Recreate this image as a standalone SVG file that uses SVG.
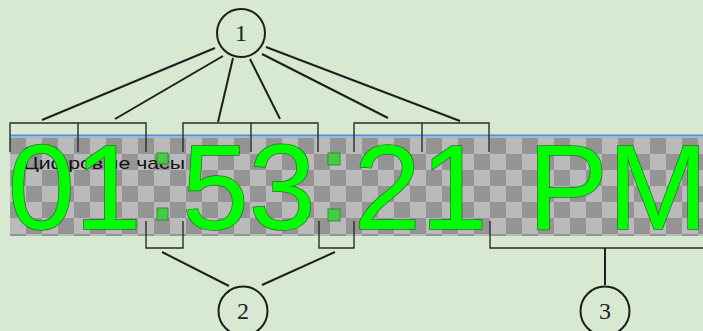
<svg xmlns="http://www.w3.org/2000/svg" width="703" height="331" viewBox="0 0 703 331">
<defs>
<pattern id="chk" x="10" y="138" width="32" height="32" patternUnits="userSpaceOnUse">
<rect width="32" height="32" fill="#bababa"/>
<rect width="16" height="16" fill="#949494"/>
<rect x="16" y="16" width="16" height="16" fill="#949494"/>
</pattern>
<style>
.bg{fill:#d8e9d2}
.br{fill:none;stroke:#2b2b2b;stroke-width:1.4}
.cn{stroke:#1e1e1e;stroke-width:2;fill:none}
.cir{fill:none;stroke:#1e1e1e;stroke-width:2}
.num{font-family:"Liberation Serif","DejaVu Serif",serif;font-size:24px;fill:#222;text-anchor:middle}
.dig{font-family:"Liberation Sans",Arial,sans-serif;font-size:120px;fill:#00ff00;stroke:#2a6f2a;stroke-width:1.5;paint-order:stroke}
.dot{fill:#44cc44;stroke:#2f8f2f;stroke-width:1}
.lbl{font-family:"Liberation Sans",Arial,sans-serif;font-size:17px;fill:#111}
</style>
</defs>
<rect class="bg" x="0" y="0" width="703" height="331"/>
<g id="display">
<rect x="10" y="138" width="693" height="98" fill="url(#chk)"/>
<rect x="10" y="134.5" width="693" height="2" fill="#5a8bd3"/>
<rect x="10" y="136.5" width="693" height="1.5" fill="#9db9e0"/>
<text class="lbl" x="23" y="169" textLength="162" lengthAdjust="spacingAndGlyphs">Цифровые часы</text>
<text class="dig" x="8" y="229">01</text>
<rect class="dot" x="157" y="153" width="11" height="11"/>
<rect class="dot" x="157" y="208" width="11" height="12"/>
<text class="dig" x="182" y="229">53</text>
<rect class="dot" x="328" y="153" width="12" height="12"/>
<rect class="dot" x="328" y="209" width="12" height="12"/>
<text class="dig" x="354" y="229">21</text>
<text class="dig" x="528" y="229">PM</text>
</g>
<g id="connectors">
<path class="br" d="M10,152V123H146V152M78,123V152"/>
<path class="br" d="M183,152V123H318V152M251,123V152"/>
<path class="br" d="M354,152V123H489V152M422,123V152"/>
<path class="br" d="M146,221V248H183V221"/>
<path class="br" d="M319,221V248H354V221"/>
<path class="br" d="M490,221V248H703"/>
<line class="cn" x1="215" y1="48" x2="42" y2="120"/>
<line class="cn" x1="223" y1="56" x2="115" y2="119"/>
<line class="cn" x1="233" y1="58" x2="218" y2="122"/>
<line class="cn" x1="250" y1="59" x2="280" y2="119"/>
<line class="cn" x1="262" y1="54" x2="388" y2="118"/>
<line class="cn" x1="266" y1="47" x2="460" y2="121"/>
<line class="cn" x1="162" y1="252" x2="229" y2="286"/>
<line class="cn" x1="335" y1="252" x2="262" y2="285"/>
<line class="cn" x1="605" y1="248" x2="605" y2="285"/>
</g>
<g id="node1">
<circle class="cir" cx="241" cy="33" r="24"/>
<text class="num" x="241" y="41">1</text>
</g>
<g id="node2">
<circle class="cir" cx="243" cy="311" r="24.5"/>
<text class="num" x="243" y="319">2</text>
</g>
<g id="node3">
<circle class="cir" cx="605" cy="311" r="24.5"/>
<text class="num" x="605" y="319">3</text>
</g>
</svg>
